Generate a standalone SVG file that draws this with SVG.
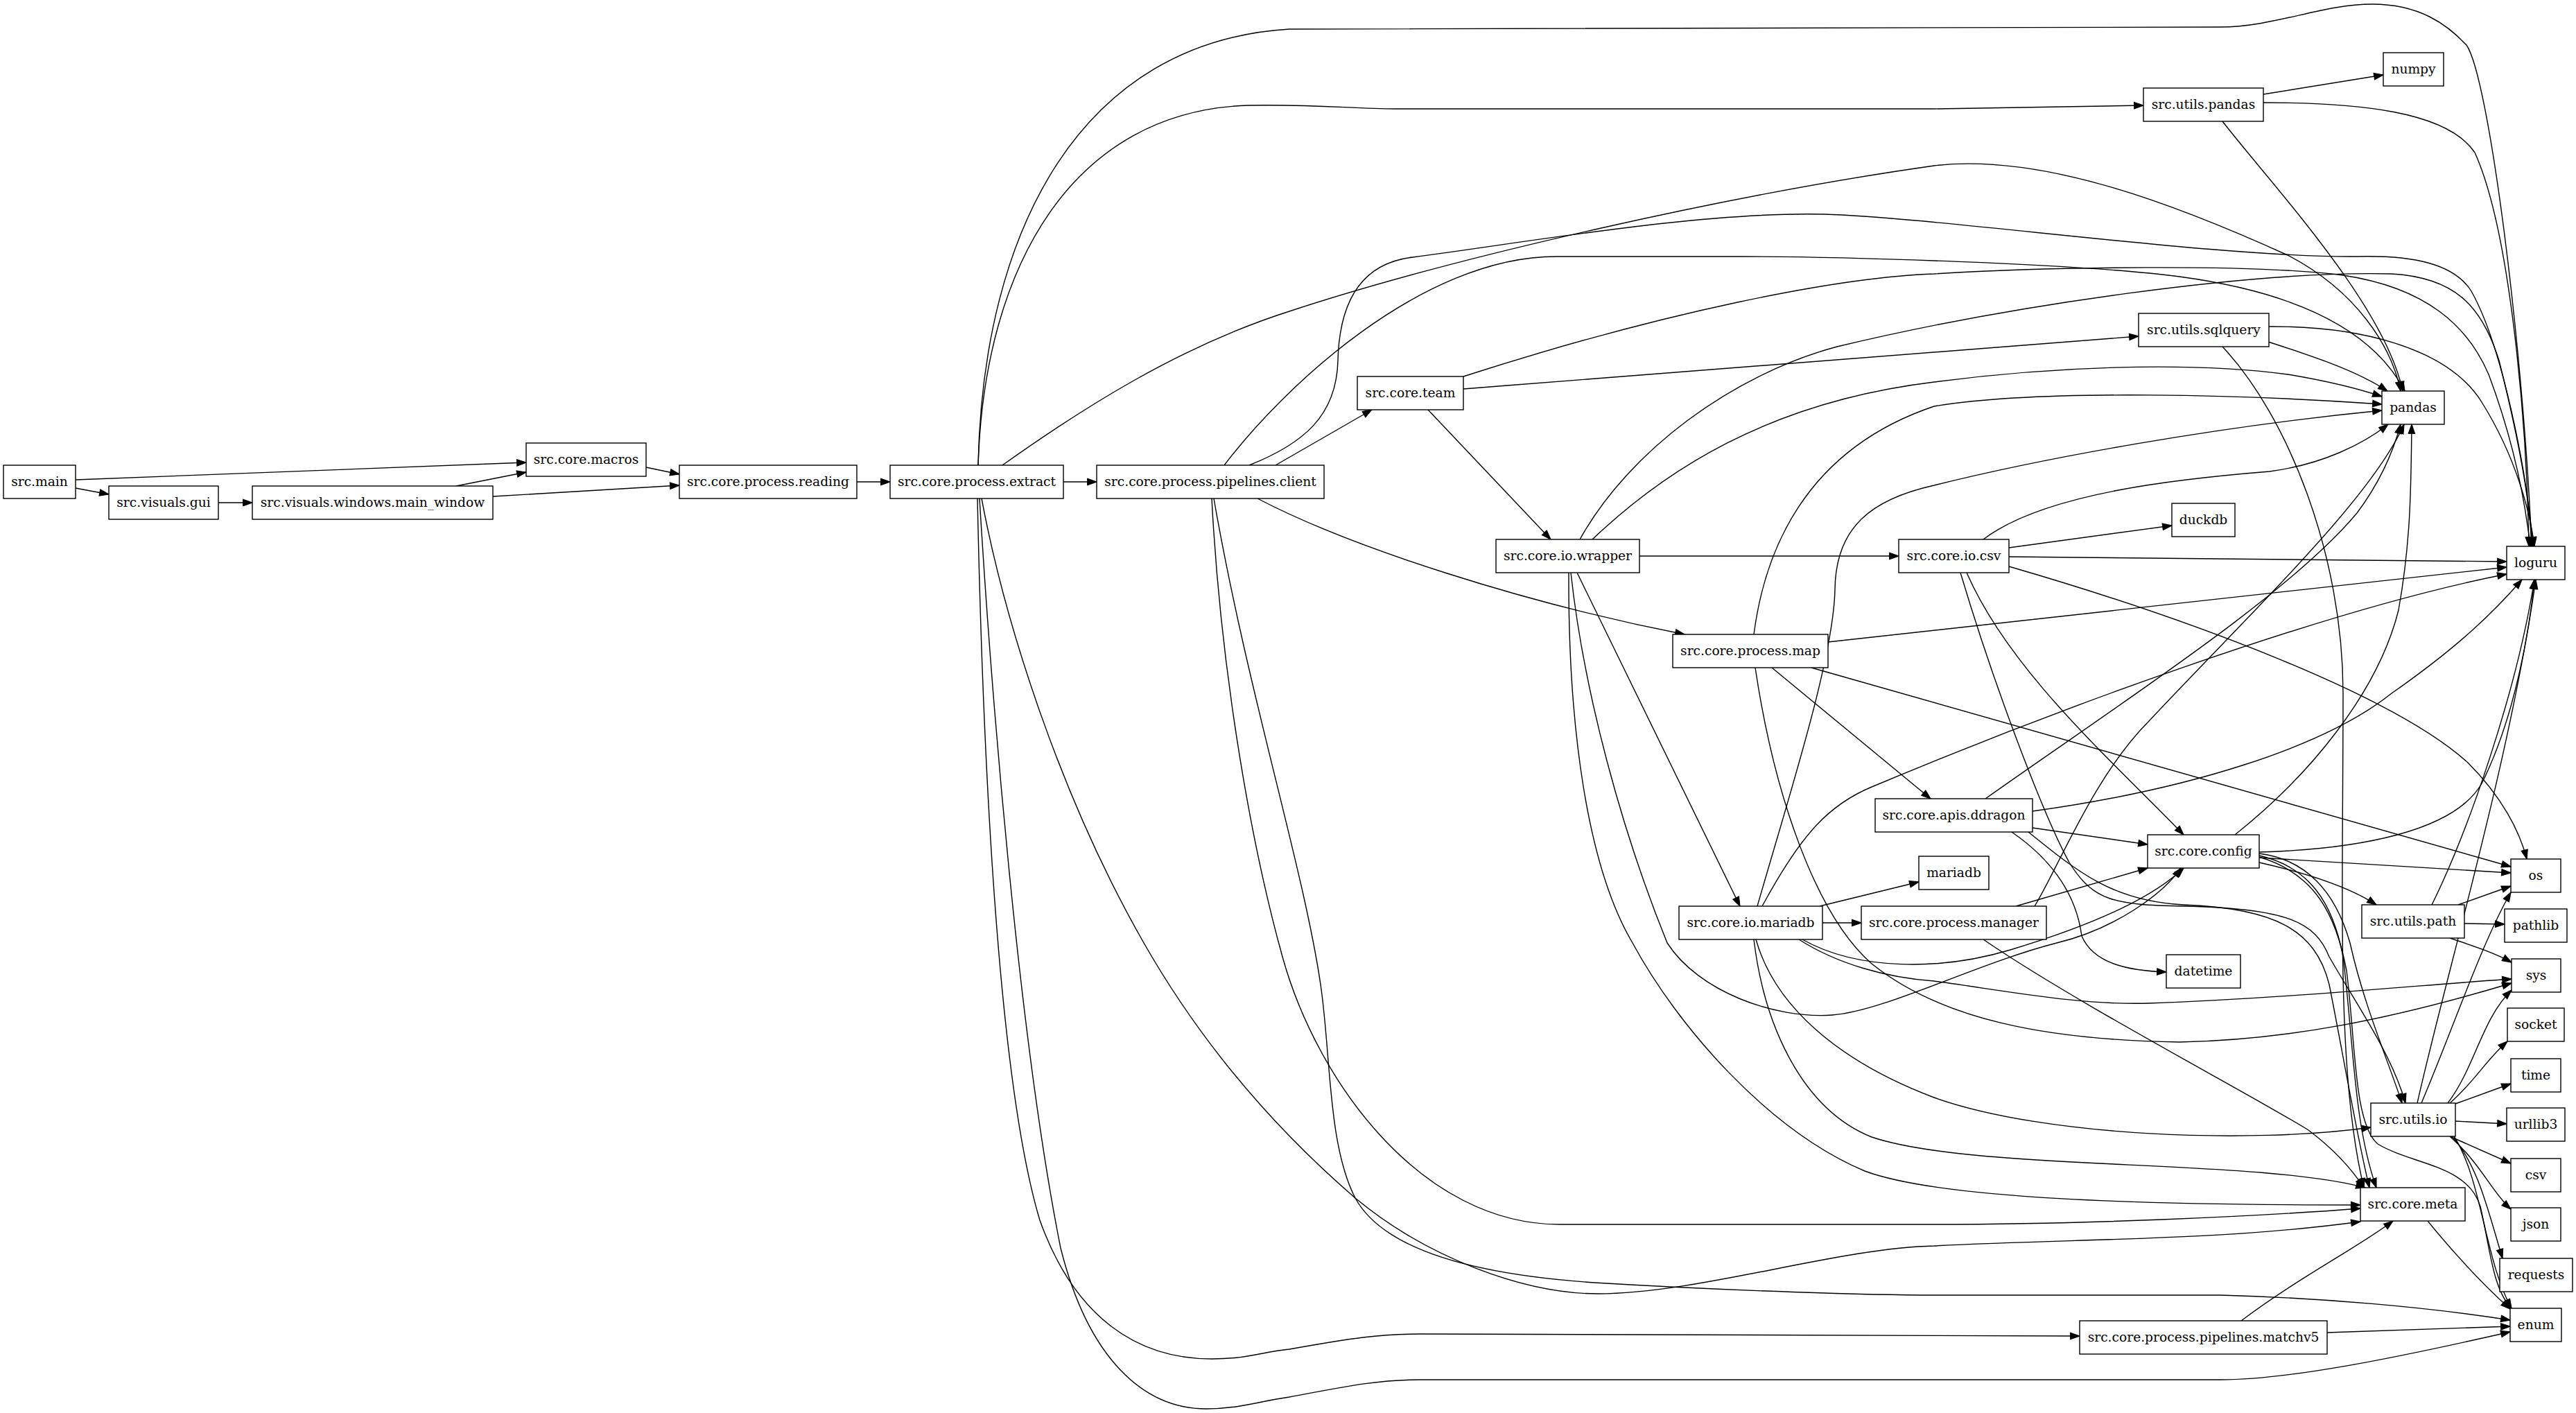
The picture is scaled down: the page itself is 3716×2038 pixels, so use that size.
<svg xmlns="http://www.w3.org/2000/svg" width="3716" height="2038" viewBox="0 0 3716 2038">
<style>
.node rect{fill:#ffffff;stroke:#000000;stroke-width:1.4}
.node text{font-family:"DejaVu Serif","Liberation Serif",serif;font-size:18.67px;fill:#000000;text-anchor:middle}
.edges path{fill:none;stroke:#000000;stroke-width:1.4;marker-end:url(#arr)}
</style>
<defs>
<marker id="arr" markerUnits="userSpaceOnUse" markerWidth="16" markerHeight="12" refX="13.3" refY="4.67" orient="auto" overflow="visible">
<path d="M0,0 L13.3,4.67 L0,9.33 Z" fill="#000000" stroke="#000000" stroke-width="1.2"/>
</marker>
</defs>
<rect x="0" y="0" width="3716" height="2038" fill="#ffffff"/>
<g id="connectors" class="edges">
<path d="M109,692 L759,667"/>
<path d="M109,704 L157,713"/>
<path d="M315,725 L364,725"/>
<path d="M658,701 L759,681"/>
<path d="M711,716 L980,700"/>
<path d="M932,674 L980,684"/>
<path d="M1236,695 L1284,695"/>
<path d="M1534,695 L1582,695"/>
<path d="M1411,671 C1418,330 1560,60 1860,42 L3203,39 C3280,39 3350,6 3422,6 C3490,6 3530,35 3558,65 C3590,110 3640,500 3652,788"/>
<path d="M1411,671 C1420,380 1550,160 1800,152 C1900,150 1950,157 2014,157 L2790,157 L3092,152"/>
<path d="M1446,671 C1560,590 1700,500 1860,449 C2100,370 2500,280 2790,239 C2950,220 3150,300 3300,368 C3400,420 3450,500 3463,564"/>
<path d="M1416,719 C1450,900 1530,1150 1650,1360 C1730,1500 1830,1620 1955,1728 C2060,1815 2200,1866 2305,1866 C2450,1866 2650,1800 2790,1797 C3000,1786 3200,1790 3405,1762"/>
<path d="M1410,719 C1418,1100 1440,1560 1500,1760 C1550,1900 1640,1960 1748,1960 C1800,1960 1820,1950 1860,1946 C1950,1930 1990,1924 2050,1924 L3000,1927"/>
<path d="M1413,719 C1430,1000 1470,1500 1530,1800 C1570,1960 1650,2032 1740,2032 C1790,2032 1820,2020 1860,2015 C1950,1998 1990,1990 2050,1990 L3203,1990 C3300,1990 3450,1960 3621,1921"/>
<path d="M1840,671 L1979,591"/>
<path d="M1814,719 C1950,790 2200,870 2430,915"/>
<path d="M1766,671 C1850,560 2050,370 2245,370 L2512,370 C2650,370 3000,380 3144,399 C3300,420 3420,470 3469,564"/>
<path d="M1802,671 C1880,640 1928,600 1930,520 C1932,440 1960,380 2038,371 C2200,350 2450,305 2631,309 C2800,314 3200,372 3400,370 C3480,368 3540,380 3565,420 C3610,500 3645,680 3654,788"/>
<path d="M1748,719 C1760,950 1800,1200 1850,1380 C1900,1560 2050,1766 2250,1766 L2790,1766 C3000,1766 3250,1755 3405,1743"/>
<path d="M1751,719 C1800,1000 1880,1250 1905,1420 C1920,1520 1915,1650 1955,1728 C2000,1810 2150,1840 2300,1850 C2500,1862 2700,1868 2790,1868 L3203,1868 C3350,1872 3500,1885 3621,1904"/>
<path d="M2111,561 C2500,530 2900,498 3085,485"/>
<path d="M2111,543 C2400,450 2650,400 2790,395 C2950,385 3250,380 3380,397 C3500,415 3560,470 3590,540 C3620,620 3640,700 3650,788"/>
<path d="M2060,591 L2237,778"/>
<path d="M3265,136 L3438,108"/>
<path d="M3206,175 C3280,270 3440,440 3466,564"/>
<path d="M3265,148 C3400,148 3530,160 3570,220 C3620,330 3645,600 3648,788"/>
<path d="M3272,493 C3340,515 3400,535 3444,564"/>
<path d="M3272,471 C3400,470 3530,500 3580,580 C3630,660 3650,740 3656,788"/>
<path d="M3206,500 C3300,600 3380,800 3380,1000 C3380,1300 3370,1550 3410,1713"/>
<path d="M2365,802 L2739,802"/>
<path d="M2279,778 C2350,650 2500,540 2650,500 C2900,440 3250,390 3450,395 C3540,400 3580,440 3605,520 C3630,620 3650,720 3652,788"/>
<path d="M2297,778 C2400,680 2550,580 2790,551 C2950,530 3150,520 3300,540 C3360,550 3400,560 3436,572"/>
<path d="M2275,826 L2510,1307"/>
<path d="M2263,826 C2262,1050 2290,1250 2355,1360 C2420,1480 2550,1630 2690,1689 C2800,1730 3100,1738 3405,1738"/>
<path d="M2266,826 C2285,1000 2340,1200 2405,1360 C2450,1430 2560,1470 2643,1464 C2720,1458 2850,1390 2967,1360 C3050,1340 3120,1290 3146,1252"/>
<path d="M2530,915 C2545,800 2600,650 2790,586 C2950,560 3250,570 3436,583"/>
<path d="M2637,926 L3616,818"/>
<path d="M2613,963 L3622,1250"/>
<path d="M2556,963 L2785,1152"/>
<path d="M2532,963 C2560,1150 2620,1320 2700,1390 C2800,1470 2950,1500 3144,1503 C3300,1500 3450,1470 3623,1418"/>
<path d="M2898,790 L3133,758"/>
<path d="M2898,803 L3616,810"/>
<path d="M2861,778 C2950,710 3150,690 3274,680 C3350,670 3410,640 3445,612"/>
<path d="M2898,817 C3150,890 3450,1000 3560,1100 C3610,1150 3635,1200 3645,1239"/>
<path d="M2837,826 C2900,970 3050,1100 3150,1204"/>
<path d="M2828,826 C2880,1000 2950,1180 2985,1244 C3020,1300 3050,1305 3150,1307 C3300,1310 3340,1330 3360,1380 C3400,1450 3450,1520 3470,1591"/>
<path d="M2864,1152 C3050,1020 3300,860 3400,740 C3430,700 3450,660 3463,612"/>
<path d="M2932,1170 C3150,1140 3350,1080 3450,1000 C3550,930 3600,880 3638,836"/>
<path d="M2932,1194 L3098,1218"/>
<path d="M2902,1200 C2960,1240 2995,1290 3003,1350 C3020,1390 3070,1400 3125,1402"/>
<path d="M2926,1200 C3000,1260 3050,1300 3150,1305 C3280,1310 3340,1340 3360,1420 C3380,1520 3400,1640 3418,1713"/>
<path d="M2625,1307 L2768,1272"/>
<path d="M2629,1331 L2685,1331"/>
<path d="M2535,1307 C2580,1150 2645,950 2647,850 C2648,760 2700,720 2790,700 C2950,660 3200,615 3436,592"/>
<path d="M2542,1307 C2600,1200 2640,1160 2700,1135 C2950,1030 3350,880 3616,828"/>
<path d="M2600,1355 C2680,1400 2800,1400 2900,1370 C3000,1340 3100,1300 3150,1252"/>
<path d="M2595,1355 C2650,1390 2720,1410 2790,1415 C2900,1430 3000,1450 3100,1447 C3300,1440 3500,1420 3623,1412"/>
<path d="M2533,1355 C2560,1450 2650,1530 2790,1583 C2950,1640 3250,1650 3420,1626"/>
<path d="M2530,1355 C2545,1480 2600,1600 2700,1640 C2850,1690 3250,1670 3412,1713"/>
<path d="M2935,1307 C2970,1250 3020,1120 3100,1040 C3250,880 3420,720 3468,612"/>
<path d="M2908,1307 L3098,1252"/>
<path d="M2861,1355 C3000,1450 3250,1580 3330,1630 C3370,1660 3395,1690 3410,1713"/>
<path d="M3224,1204 C3330,1120 3430,1000 3460,880 C3478,780 3478,700 3479,612"/>
<path d="M3259,1229 C3400,1225 3540,1200 3580,1130 C3630,1030 3650,900 3656,836"/>
<path d="M3259,1237 L3622,1259"/>
<path d="M3259,1244 C3330,1260 3390,1280 3428,1305"/>
<path d="M3259,1231 C3330,1240 3370,1290 3390,1360 C3410,1450 3445,1530 3465,1591"/>
<path d="M3259,1234 C3330,1250 3365,1300 3380,1380 C3395,1500 3395,1620 3428,1713"/>
<path d="M3259,1236 C3340,1260 3370,1320 3385,1400 C3398,1500 3395,1620 3430,1650 C3480,1680 3560,1680 3578,1740 C3592,1800 3596,1860 3623,1887"/>
<path d="M3508,1305 C3560,1200 3630,1000 3656,836"/>
<path d="M3546,1305 L3622,1278"/>
<path d="M3555,1332 L3613,1333"/>
<path d="M3534,1353 C3570,1365 3600,1375 3623,1388"/>
<path d="M3487,1591 C3530,1400 3620,1100 3658,836"/>
<path d="M3493,1591 C3540,1480 3580,1360 3622,1287"/>
<path d="M3531,1591 C3570,1540 3580,1470 3623,1428"/>
<path d="M3534,1591 C3570,1560 3585,1530 3617,1502"/>
<path d="M3542,1592 L3622,1563"/>
<path d="M3542,1617 L3616,1621"/>
<path d="M3534,1639 L3622,1678"/>
<path d="M3534,1639 C3580,1680 3595,1720 3622,1744"/>
<path d="M3537,1639 C3575,1680 3590,1750 3610,1815"/>
<path d="M3540,1639 C3580,1700 3585,1820 3623,1887"/>
<path d="M3502,1761 C3550,1820 3590,1860 3621,1888"/>
<path d="M3233,1905 C3320,1840 3400,1800 3452,1761"/>
<path d="M3357,1922 L3621,1913"/>
</g>
<g id="n_main" class="node"><rect x="5" y="671" width="104" height="48"/><text x="57" y="701">src.main</text></g>
<g id="n_gui" class="node"><rect x="157" y="701" width="158" height="48"/><text x="236" y="731">src.visuals.gui</text></g>
<g id="n_main_window" class="node"><rect x="364" y="701" width="347" height="48"/><text x="537.5" y="731">src.visuals.windows.main_window</text></g>
<g id="n_macros" class="node"><rect x="759" y="639" width="173" height="48"/><text x="845.5" y="669">src.core.macros</text></g>
<g id="n_reading" class="node"><rect x="980" y="671" width="256" height="48"/><text x="1108" y="701">src.core.process.reading</text></g>
<g id="n_extract" class="node"><rect x="1284" y="671" width="250" height="48"/><text x="1409" y="701">src.core.process.extract</text></g>
<g id="n_pclient" class="node"><rect x="1582" y="671" width="328" height="48"/><text x="1746" y="701">src.core.process.pipelines.client</text></g>
<g id="n_team" class="node"><rect x="1958" y="543" width="153" height="48"/><text x="2034.5" y="573">src.core.team</text></g>
<g id="n_wrapper" class="node"><rect x="2158" y="778" width="207" height="48"/><text x="2261.5" y="808">src.core.io.wrapper</text></g>
<g id="n_pmap" class="node"><rect x="2413" y="915" width="224" height="48"/><text x="2525" y="945">src.core.process.map</text></g>
<g id="n_iomariadb" class="node"><rect x="2422" y="1307" width="207" height="48"/><text x="2525.5" y="1337">src.core.io.mariadb</text></g>
<g id="n_iocsv" class="node"><rect x="2739" y="778" width="159" height="48"/><text x="2818.5" y="808">src.core.io.csv</text></g>
<g id="n_ddragon" class="node"><rect x="2705" y="1152" width="227" height="48"/><text x="2818.5" y="1182">src.core.apis.ddragon</text></g>
<g id="n_mariadb" class="node"><rect x="2768" y="1235" width="101" height="48"/><text x="2818.5" y="1265">mariadb</text></g>
<g id="n_pmanager" class="node"><rect x="2685" y="1307" width="267" height="48"/><text x="2818.5" y="1337">src.core.process.manager</text></g>
<g id="n_upandas" class="node"><rect x="3092" y="127" width="173" height="48"/><text x="3178.5" y="157">src.utils.pandas</text></g>
<g id="n_sqlquery" class="node"><rect x="3085" y="452" width="188" height="48"/><text x="3179" y="482">src.utils.sqlquery</text></g>
<g id="n_duckdb" class="node"><rect x="3133" y="726" width="91" height="48"/><text x="3178.5" y="756">duckdb</text></g>
<g id="n_config" class="node"><rect x="3098" y="1204" width="161" height="48"/><text x="3178.5" y="1234">src.core.config</text></g>
<g id="n_datetime" class="node"><rect x="3125" y="1377" width="107" height="48"/><text x="3178.5" y="1407">datetime</text></g>
<g id="n_matchv5" class="node"><rect x="3000" y="1905" width="357" height="48"/><text x="3178.5" y="1935">src.core.process.pipelines.matchv5</text></g>
<g id="n_numpy" class="node"><rect x="3438" y="76" width="87" height="48"/><text x="3481.5" y="106">numpy</text></g>
<g id="n_pandas" class="node"><rect x="3436" y="564" width="90" height="48"/><text x="3481" y="594">pandas</text></g>
<g id="n_upath" class="node"><rect x="3407" y="1305" width="148" height="48"/><text x="3481" y="1335">src.utils.path</text></g>
<g id="n_uio" class="node"><rect x="3420" y="1591" width="122" height="48"/><text x="3481" y="1621">src.utils.io</text></g>
<g id="n_meta" class="node"><rect x="3405" y="1713" width="151" height="48"/><text x="3480.5" y="1743">src.core.meta</text></g>
<g id="n_loguru" class="node"><rect x="3616" y="788" width="84" height="48"/><text x="3658" y="818">loguru</text></g>
<g id="n_os" class="node"><rect x="3622" y="1239" width="72" height="48"/><text x="3658" y="1269">os</text></g>
<g id="n_pathlib" class="node"><rect x="3613" y="1311" width="90" height="48"/><text x="3658" y="1341">pathlib</text></g>
<g id="n_sys" class="node"><rect x="3623" y="1383" width="71" height="48"/><text x="3658.5" y="1413">sys</text></g>
<g id="n_socket" class="node"><rect x="3617" y="1454" width="82" height="48"/><text x="3658" y="1484">socket</text></g>
<g id="n_time" class="node"><rect x="3622" y="1527" width="72" height="48"/><text x="3658" y="1557">time</text></g>
<g id="n_urllib3" class="node"><rect x="3616" y="1598" width="84" height="48"/><text x="3658" y="1628">urllib3</text></g>
<g id="n_csv" class="node"><rect x="3622" y="1671" width="72" height="48"/><text x="3658" y="1701">csv</text></g>
<g id="n_json" class="node"><rect x="3622" y="1742" width="72" height="48"/><text x="3658" y="1772">json</text></g>
<g id="n_requests" class="node"><rect x="3606" y="1815" width="105" height="48"/><text x="3658.5" y="1845">requests</text></g>
<g id="n_enum" class="node"><rect x="3621" y="1887" width="74" height="48"/><text x="3658" y="1917">enum</text></g>
</svg>
